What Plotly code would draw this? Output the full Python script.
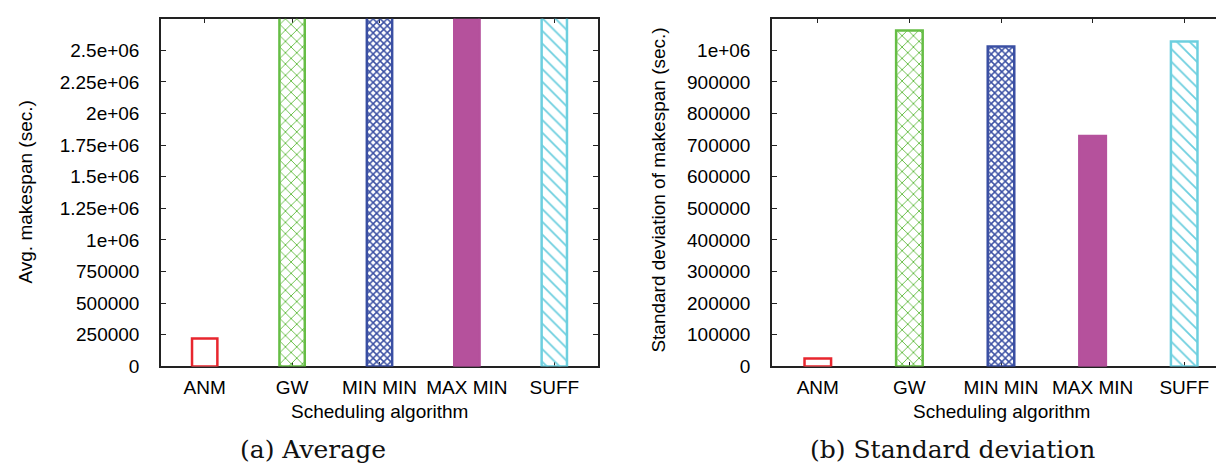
import plotly.graph_objects as go

categories = ["ANM", "GW", "MIN MIN", "MAX MIN", "SUFF"]
# Average makespan (sec.) — bars other than ANM exceed the visible axis range
avg_makespan = [220000, 3200000, 3100000, 2950000, 3150000]
# Standard deviation of makespan (sec.)
std_makespan = [25000, 1063000, 1012000, 729000, 1028000]

avg_tickvals = [0, 250000, 500000, 750000, 1000000, 1250000, 1500000, 1750000, 2000000, 2250000, 2500000]
avg_ticktext = ["0", "250000", "500000", "750000", "1e+06", "1.25e+06", "1.5e+06", "1.75e+06", "2e+06", "2.25e+06", "2.5e+06"]
std_tickvals = [0, 100000, 200000, 300000, 400000, 500000, 600000, 700000, 800000, 900000, 1000000]
std_ticktext = ["0", "100000", "200000", "300000", "400000", "500000", "600000", "700000", "800000", "900000", "1e+06"]

colors = ["#e8262e", "#66bd45", "#3a4fa3", "#b5519c", "#6dcfdf"]
fill_colors = ["white", "#66bd45", "#3a4fa3", "#b5519c", "#6dcfdf"]
shapes = ["", "x", "x", "", "\\"]
psizes = [8, 8, 5, 8, 9]
psolid = [0.2, 0.22, 0.5, 0.2, 0.2]

W, H = 1224, 470
def px(x):
    return x / W
def py(y):
    return 1 - y / H

fig = go.Figure()

def bar(vals, xa, ya):
    return go.Bar(
        x=categories, y=vals, xaxis=xa, yaxis=ya, width=0.29,
        marker=dict(
            color=fill_colors,
            line=dict(color=colors, width=2.5),
            pattern=dict(shape=shapes, fgcolor=colors, bgcolor="white",
                         size=psizes, solidity=psolid, fillmode="replace"),
        ),
        showlegend=False, hoverinfo="x+y",
    )

fig.add_trace(bar(avg_makespan, "x", "y"))
fig.add_trace(bar(std_makespan, "x2", "y2"))

tickfont = dict(family="Liberation Sans, Arial, sans-serif", size=19, color="#000")
ydom = [py(367), py(11)]
common_x = dict(type="category", range=[-0.5, 4.5], showline=True, linecolor="#222",
                linewidth=1.5, mirror="ticks", ticks="inside", ticklen=5, tickcolor="#222",
                showgrid=False, tickfont=tickfont, layer="below traces", ticklabelstandoff=3)
common_y = dict(showline=True, linecolor="#222", linewidth=1.5, mirror="ticks",
                ticks="inside", ticklen=5, tickcolor="#222", showgrid=False,
                zeroline=False, tickfont=tickfont, layer="below traces", ticklabelstandoff=16)

fig.update_layout(
    width=W, height=H, margin=dict(l=0, r=0, t=0, b=0),
    paper_bgcolor="white", plot_bgcolor="white",
    bargap=0.7,
    xaxis=dict(domain=[px(153), px(590)], anchor="y", **common_x),
    yaxis=dict(domain=ydom, anchor="x", range=[0, 2750000],
               tickmode="array", tickvals=avg_tickvals, ticktext=avg_ticktext, **common_y),
    xaxis2=dict(domain=[px(764), px(1222)], anchor="y2", **common_x),
    yaxis2=dict(domain=ydom, anchor="x2", range=[0, 1100000],
                tickmode="array", tickvals=std_tickvals, ticktext=std_ticktext, **common_y),
)

lab = dict(family="Liberation Sans, Arial, sans-serif", size=19, color="#000")
cap = dict(family="DejaVu Serif, serif", size=25, color="#111")
ann = [
    dict(text="Scheduling algorithm", x=px(371.5), y=py(413), font=lab),
    dict(text="Scheduling algorithm", x=px(993), y=py(413), font=lab),
    dict(text="Avg. makespan (sec.)", x=px(18), y=py(189), font=lab, textangle=-90),
    dict(text="Standard deviation of makespan (sec.)", x=px(651), y=py(187), font=lab, textangle=-90),
    dict(text="(a) Average", x=px(305), y=py(452), font=cap),
    dict(text="(b) Standard deviation", x=px(944), y=py(452), font=cap),
]
for a in ann:
    fig.add_annotation(xref="paper", yref="paper", showarrow=False,
                       xanchor="center", yanchor="middle", **a)

fig.write_html("out.html")
